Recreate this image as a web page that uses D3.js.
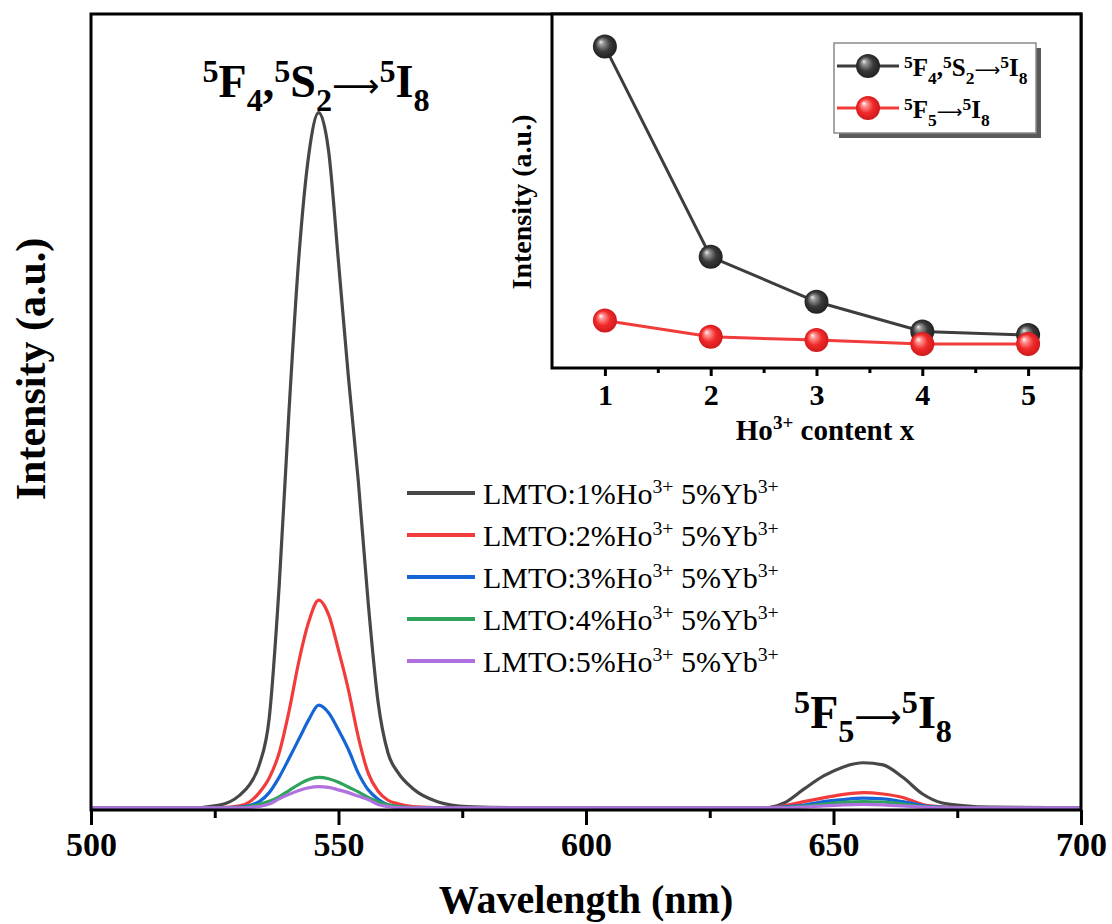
<!DOCTYPE html>
<html>
<head>
<meta charset="utf-8">
<script src="https://cdn.jsdelivr.net/npm/d3@7"></script>
<style>
  body { margin: 0; background: #fff; }
  text { font-family: "Liberation Serif", "Times New Roman", serif; }
</style>
</head>
<body>
<script>
// wavelength grid (nm) shared by all spectra
const wavelengths = [500, 520, 526, 530, 532, 534, 536, 538, 540, 542, 544, 546, 548, 550, 552, 554, 556, 558, 560, 562,
    565, 570, 576, 590, 620, 636, 640, 644, 648, 652, 656, 660, 664, 668, 672, 676, 682, 700];

// intensities (1% Ho peak = 100)
const ho1 = [0, 0, 0.4, 1.8, 3.3, 6.2, 12.9, 31.8, 57.1, 79.3, 94, 100, 94.5, 78.5, 62, 47, 29.5, 15.2, 7.9, 5.1,
    2.8, 0.9, 0.2, 0, 0, 0, 0.7, 2.7, 4.6, 5.9, 6.5, 6.2, 4.4, 2.0, 0.7, 0.35, 0.1, 0];
const ho2 = [0, 0, 0.05, 0.3, 0.85, 2.2, 4.3, 7.9, 13.9, 21.1, 26.8, 29.9, 27.8, 22.7, 17.0, 10.2, 5.0, 2.4, 1.1, 0.6,
    0.2, 0.05, 0, 0, 0, 0, 0.3, 0.9, 1.45, 1.95, 2.2, 2.0, 1.5, 0.5, 0.15, 0.05, 0, 0];
const ho3 = [0, 0, 0, 0.1, 0.35, 0.9, 2.2, 4.4, 7.1, 9.9, 12.7, 14.8, 13.7, 11.2, 8.4, 5.0, 2.6, 1.25, 0.45, 0.2,
    0.05, 0, 0, 0, 0, 0, 0.15, 0.4, 0.9, 1.2, 1.4, 1.3, 0.9, 0.35, 0.1, 0, 0, 0];
const ho4 = [0, 0, 0, 0.05, 0.2, 0.5, 0.95, 1.6, 2.5, 3.4, 4.1, 4.4, 4.2, 3.7, 3.0, 2.3, 1.5, 0.9, 0.45, 0.2,
    0.05, 0, 0, 0, 0, 0, 0.05, 0.25, 0.55, 0.8, 0.9, 0.85, 0.55, 0.2, 0.05, 0, 0, 0];
const ho5 = [0, 0, 0, 0, 0.05, 0.2, 0.55, 1.3, 1.95, 2.5, 2.9, 3.06, 2.95, 2.6, 2.2, 1.7, 1.2, 0.5, 0.2, 0.05,
    0, 0, 0, 0, 0, 0, 0, 0.1, 0.3, 0.45, 0.5, 0.45, 0.3, 0.1, 0, 0, 0, 0];

const seriesNames = ["1", "2", "3", "4", "5"];
const seriesColors = ["#474747", "#f23b3b", "#1565d6", "#2ea35c", "#b070df"];

// inset: integrated intensity vs Ho content
const hoContent = [1, 2, 3, 4, 5];
const greenBand = [9.08, 3.14, 1.87, 1.03, 0.93];
const redBand = [1.34, 0.88, 0.79, 0.68, 0.68];

const xTicks = [500, 525, 550, 575, 600, 625, 650, 675, 700];
const insetTicks = [1, 1.5, 2, 2.5, 3, 3.5, 4, 4.5, 5];

const width = 1112;
const height = 924;
const plot = { left: 91, right: 1081, top: 14, bottom: 810 };
const inset = { left: 552, right: 1081, top: 14, bottom: 368 };

const svg = d3.select("body").append("svg")
    .attr("width", width)
    .attr("height", height);

// writes a label with super/subscripts: parts = [[text, "sup"|"sub"|"arrow"|null], ...]
function richText(g, parts, size, opts = {}) {
    const small = size * (opts.ratio || 0.7);
    const t = g.append("text")
        .attr("x", opts.x)
        .attr("y", opts.y)
        .attr("font-size", size)
        .attr("font-weight", opts.weight || "normal")
        .attr("text-anchor", opts.anchor || "start");
    let shift = 0;
    parts.forEach(([s, kind]) => {
        const target = kind === "sup" ? -size * (opts.up || 0.32) : kind === "sub" ? size * (opts.down || 0.3) : 0;
        const span = t.append("tspan")
            .attr("dy", target - shift)
            .attr("font-size", kind === "sup" || kind === "sub" ? small : size)
            .text(s);
        if (kind === "arrow") {
            span.attr("font-family", '"DejaVu Sans", sans-serif')
                .attr("font-weight", "normal")
                .attr("font-size", size * 0.72);
        }
        shift = target;
    });
    return t;
}

//main scales
const x = d3.scaleLinear().domain([500, 700]).range([plot.left, plot.right]);
const y = d3.scaleLinear().domain([-0.3, 114.2]).range([plot.bottom, plot.top]);

svg.append("clipPath").attr("id", "clip")
    .append("rect")
    .attr("x", plot.left).attr("y", plot.top)
    .attr("width", plot.right - plot.left).attr("height", plot.bottom - plot.top);

const spectra = [ho1, ho2, ho3, ho4, ho5].map((vals, i) => ({
    name: seriesNames[i],
    color: seriesColors[i],
    values: vals.map((v, j) => ({ wl: wavelengths[j], v })),
}));

const line = d3.line()
    .x((d) => x(d.wl))
    .y((d) => y(d.v))
    .curve(d3.curveMonotoneX);

svg.append("g").attr("clip-path", "url(#clip)")
    .selectAll("path.spectrum")
    .data(spectra)
    .join("path")
    .attr("class", "spectrum")
    .attr("fill", "none")
    .attr("stroke", (d) => d.color)
    .attr("stroke-width", 3.2)
    .attr("stroke-linejoin", "round")
    .attr("d", (d) => line(d.values));

//frame
svg.append("rect")
    .attr("x", plot.left).attr("y", plot.top)
    .attr("width", plot.right - plot.left).attr("height", plot.bottom - plot.top)
    .attr("fill", "none").attr("stroke", "#000").attr("stroke-width", 3);

//x axis
const xAxis = svg.append("g")
    .attr("transform", `translate(0,${plot.bottom})`)
    .call(d3.axisBottom(x).tickValues(xTicks).tickSize(15).tickSizeOuter(0)
        .tickFormat((d) => (d % 50 === 0 ? d : "")));
xAxis.select(".domain").remove();
xAxis.selectAll(".tick line")
    .attr("stroke", "#000").attr("stroke-width", 3)
    .attr("y2", (d) => (d % 50 === 0 ? 15 : 8));
xAxis.selectAll(".tick text")
    .attr("y", 22)
    .attr("dy", "0.71em")
    .attr("fill", "#000")
    .attr("font-size", 34)
    .attr("font-weight", "bold")
    .attr("font-family", '"Liberation Serif", "Times New Roman", serif');

svg.append("text")
    .attr("x", (plot.left + plot.right) / 2)
    .attr("y", 913)
    .attr("text-anchor", "middle")
    .attr("font-size", 40)
    .attr("font-weight", "bold")
    .text("Wavelength (nm)");

svg.append("text")
    .attr("transform", "translate(45,369) rotate(-90)")
    .attr("text-anchor", "middle")
    .attr("font-size", 42)
    .attr("font-weight", "bold")
    .text("Intensity (a.u.)");

//peak annotations
const greenLabel = [["5", "sup"], ["F", null], ["4", "sub"], [",", null], ["5", "sup"], ["S", null], ["2", "sub"],
    ["\u27F6", "arrow"], ["5", "sup"], ["I", null], ["8", "sub"]];
const redLabel = [["5", "sup"], ["F", null], ["5", "sub"], ["\u27F6", "arrow"], ["5", "sup"], ["I", null], ["8", "sub"]];

richText(svg, greenLabel, 46, { x: 316, y: 97, anchor: "middle", weight: "bold" });
richText(svg, redLabel, 46, { x: 873, y: 728, anchor: "middle", weight: "bold" });

//main legend
const legend = svg.append("g").attr("transform", "translate(407,493)");
const legendRow = legend.selectAll("g.row")
    .data(spectra)
    .join("g")
    .attr("class", "row")
    .attr("transform", (d, i) => `translate(0,${i * 42})`);
legendRow.append("line")
    .attr("x1", 0).attr("x2", 68)
    .attr("stroke", (d) => d.color)
    .attr("stroke-width", 4);
legendRow.each(function (d) {
    richText(d3.select(this), [[`LMTO:${d.name}%Ho`, null], ["3+", "sup"], [" 5%Yb", null], ["3+", "sup"]], 30,
        { x: 76, y: 11, ratio: 0.66, up: 0.38 });
});

//inset
const ix = d3.scaleLinear().domain([0.5, 5.5]).range([inset.left, inset.right]);
const iy = d3.scaleLinear().domain([0, 10]).range([inset.bottom, inset.top]);

const ig = svg.append("g");
ig.append("rect")
    .attr("x", inset.left).attr("y", inset.top)
    .attr("width", inset.right - inset.left).attr("height", inset.bottom - inset.top)
    .attr("fill", "#fff").attr("stroke", "#000").attr("stroke-width", 3);

const defs = svg.append("defs");
function sphereGradient(id, stops) {
    const g = defs.append("radialGradient").attr("id", id)
        .attr("cx", "50%").attr("cy", "50%").attr("r", "55%")
        .attr("fx", "32%").attr("fy", "30%");
    stops.forEach(([o, c]) => g.append("stop").attr("offset", o).attr("stop-color", c));
}
sphereGradient("ballBlack", [["0%", "#f0f0f0"], ["18%", "#9a9a9a"], ["55%", "#3a3a3a"], ["100%", "#1c1c1c"]]);
sphereGradient("ballRed", [["0%", "#ffffff"], ["18%", "#ff9a9a"], ["55%", "#f22a2a"], ["100%", "#c8161a"]]);

const insetSeries = [
    { values: greenBand, color: "#3d3d3d", fill: "url(#ballBlack)" },
    { values: redBand, color: "#f23b3b", fill: "url(#ballRed)" },
];
const iline = d3.line().x((d, i) => ix(hoContent[i])).y((d) => iy(d));

insetSeries.forEach((s) => {
    ig.append("path")
        .attr("d", iline(s.values))
        .attr("fill", "none")
        .attr("stroke", s.color)
        .attr("stroke-width", 3);
});
insetSeries.forEach((s) => {
    ig.selectAll(null)
        .data(s.values)
        .join("circle")
        .attr("cx", (d, i) => ix(hoContent[i]))
        .attr("cy", (d) => iy(d))
        .attr("r", 12)
        .attr("fill", s.fill);
});

const iAxis = ig.append("g")
    .attr("transform", `translate(0,${inset.bottom})`)
    .call(d3.axisBottom(ix).tickValues(insetTicks).tickSize(8).tickSizeOuter(0)
        .tickFormat((d) => (Number.isInteger(d) ? d : "")));
iAxis.select(".domain").remove();
iAxis.selectAll(".tick line")
    .attr("stroke", "#000").attr("stroke-width", 3)
    .attr("y2", (d) => (Number.isInteger(d) ? 8 : 5));
iAxis.selectAll(".tick text")
    .attr("y", 16)
    .attr("dy", "0.71em")
    .attr("fill", "#000")
    .attr("font-size", 30)
    .attr("font-weight", "bold")
    .attr("font-family", '"Liberation Serif", "Times New Roman", serif');

richText(ig, [["Ho", null], ["3+", "sup"], [" content x", null]], 29,
    { x: 825, y: 440, anchor: "middle", weight: "bold", ratio: 0.66, up: 0.38 });

ig.append("text")
    .attr("transform", "translate(531,202) rotate(-90)")
    .attr("text-anchor", "middle")
    .attr("font-size", 28)
    .attr("font-weight", "bold")
    .text("Intensity (a.u.)");

//inset legend
const il = ig.append("g").attr("transform", "translate(834,43)");
il.append("rect").attr("x", 5).attr("y", 5).attr("width", 202).attr("height", 90).attr("fill", "#5a5a5a");
il.append("rect").attr("width", 202).attr("height", 90)
    .attr("fill", "#fff").attr("stroke", "#8a8a8a").attr("stroke-width", 1.5);

const insetLabels = [greenLabel, redLabel];
insetSeries.forEach((s, i) => {
    const row = il.append("g").attr("transform", `translate(0,${23 + i * 42})`);
    row.append("line").attr("x1", 3).attr("x2", 65)
        .attr("stroke", s.color).attr("stroke-width", 3);
    row.append("circle").attr("cx", 34).attr("r", 12).attr("fill", s.fill);
    richText(row, insetLabels[i], 25, { x: 70, y: 10, weight: "bold" });
});
</script>
</body>
</html>
